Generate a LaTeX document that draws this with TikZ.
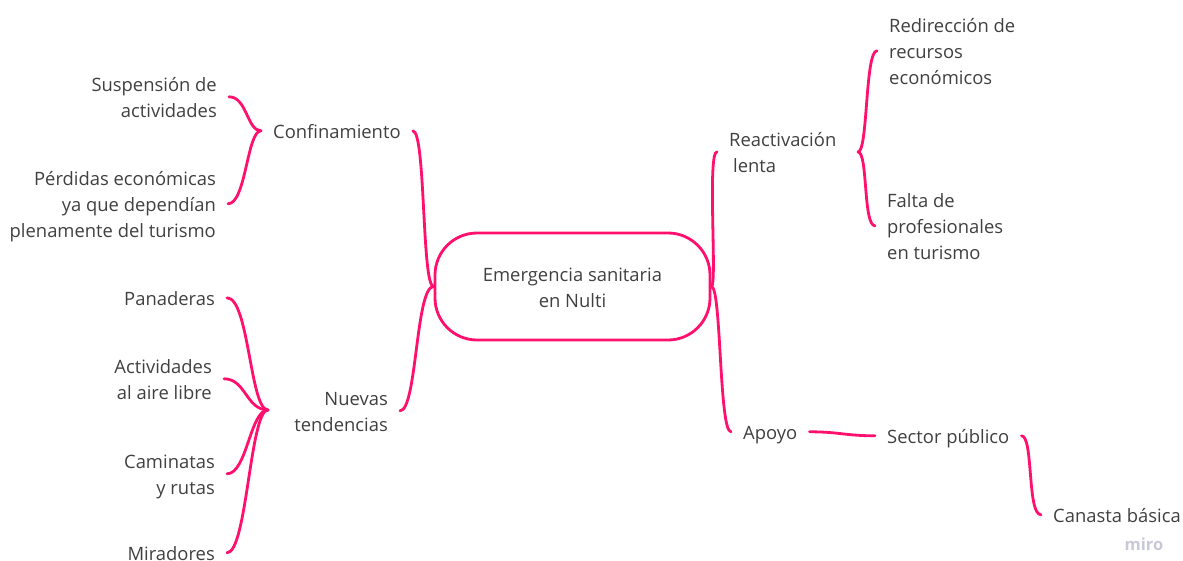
\documentclass[tikz,border=0pt]{standalone}
\usepackage{fontspec}
\setmainfont{Open Sans}
\usetikzlibrary{calc}
\definecolor{pinkline}{RGB}{255,16,110}
\definecolor{txt}{RGB}{64,64,64}
\definecolor{wmark}{RGB}{200,200,215}
\newcommand{\rlines}[1]{\raisebox{-2.5pt}[\height][\depth]{\begin{tabular}[t]{@{}r@{}}#1\end{tabular}}}
\newcommand{\llines}[1]{\raisebox{-2.5pt}[\height][\depth]{\begin{tabular}[t]{@{}l@{}}#1\end{tabular}}}
\newcommand{\clines}[1]{\raisebox{-2.5pt}[\height][\depth]{\begin{tabular}[t]{@{}c@{}}#1\end{tabular}}}
\begin{document}
\begin{tikzpicture}[x=1pt,y=-1pt,
  lbl/.style={inner xsep=12pt, inner ysep=0pt, text=txt, font=\fontsize{18.4}{26}\selectfont},
  rtxt/.style={lbl, anchor=base east},
  ltxt/.style={lbl, anchor=base west},
  conn/.style={draw=pinkline, line width=2.8pt, line cap=round},
  hubbox/.style={draw=pinkline, line width=2.8pt, rounded corners=42pt,
    minimum width=275pt, minimum height=107pt, text=txt,
    font=\fontsize{18.4}{26}\selectfont, inner sep=0pt}]
\useasboundingbox (0,0) rectangle (1183,561);

% left side
\node[rtxt] (susp) at (229,89) {\rlines{Suspensión de\\actividades}};
\node[rtxt] (perd) at (228,183) {\rlines{Pérdidas económicas\\ya que dependían\\plenamente del turismo}};
\node[ltxt] (conf) at (261,136) {\llines{Confinamiento}};
\node[rtxt] (pan) at (227,303) {\rlines{Panaderas}};
\node[rtxt] (act) at (224,371) {\rlines{Actividades\\al aire libre}};
\node[rtxt] (cam) at (227,466) {\rlines{Caminatas\\y rutas}};
\node[rtxt] (mir) at (227,558) {\rlines{Miradores}};
\node[rtxt] (nue) at (400,403) {\rlines{Nuevas\\tendencias}};
\coordinate (nuej) at (268,410);

% centre
\node[hubbox] (hub) at (572.5,286.5) {\clines{Emergencia sanitaria\\en Nulti}};

% right side
\node[ltxt] (rea) at (717,144) {\llines{Reactivación\\\hspace{4pt}lenta}};
\coordinate (reaj) at (858,152);
\node[ltxt] (red) at (877,30) {\llines{Redirección de\\recursos\\económicos}};
\node[ltxt] (fal) at (875,205) {\llines{Falta de\\profesionales\\en turismo}};
\node[ltxt] (apo) at (731,437) {\llines{Apoyo}};
\node[ltxt] (sec) at (875,441) {\llines{Sector público}};
\node[ltxt] (can) at (1041,520) {\llines{Canasta básica}};
\node[font=\bfseries\fontsize{16.5}{16.5}\selectfont, text=wmark] (miro) at (1144,544) {miro};

% connectors
\draw[conn] (conf.east) .. controls +(13,0) and +(-12,0) .. (hub.west);
\draw[conn] (nue.east) .. controls +(17,0) and +(-18,0) .. (hub.west);
\draw[conn] (conf.west) .. controls +(-14,0) and +(18,0) .. (susp.east);
\draw[conn] (conf.west) .. controls +(-14,0) and +(18,0) .. (perd.east);
\draw[conn] (nuej) .. controls +(-18,0) and +(22,0) .. (pan.east);
\draw[conn] (nuej) .. controls +(-22,0) and +(22,0) .. (act.east);
\draw[conn] (nuej) .. controls +(-18,0) and +(20,0) .. (cam.east);
\draw[conn] (nuej) .. controls +(-18,0) and +(20,0) .. (mir.east);

\draw[conn] (hub.east) .. controls +(6,0) and +(-10,0) .. (rea.west);
\draw[conn] (hub.east) .. controls +(10,0) and +(-12,0) .. (apo.west);
\draw[conn] (reaj) .. controls +(10,0) and +(-12,0) .. (red.west);
\draw[conn] (reaj) .. controls +(10,0) and +(-12,0) .. (fal.west);
\draw[conn] (apo.east) .. controls +(30,0) and +(-30,0) .. (sec.west);
\draw[conn] (sec.east) .. controls +(12,0) and +(-14,0) .. (can.west);
\end{tikzpicture}
\end{document}
